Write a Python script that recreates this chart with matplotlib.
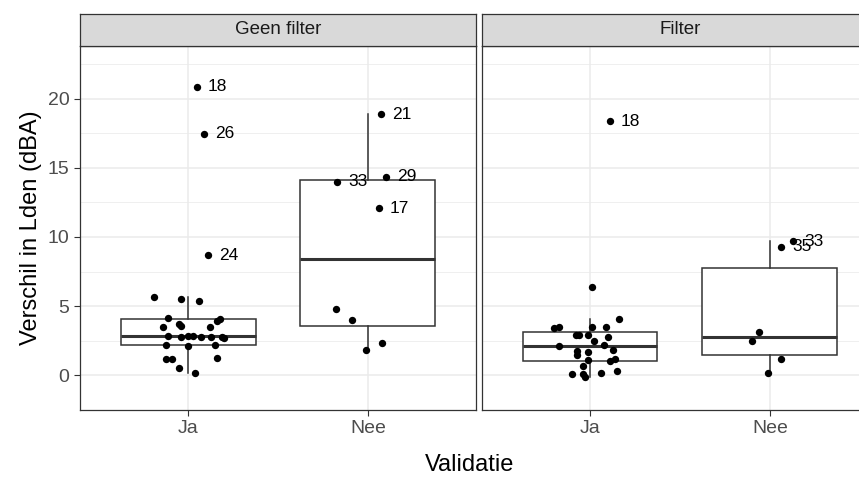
import matplotlib.pyplot as plt
import numpy as np

# Panel 1: "Geen filter"
gf_ja_x = [1.05, 1.09, 1.11, 0.81, 0.96, 1.06, 0.89, 1.18, 0.86, 0.95, 0.96, 1.12, 1.16,
           0.89, 0.96, 1.00, 1.03, 1.07, 1.13, 1.19, 1.20, 0.88, 1.00, 1.15, 0.88, 0.91, 1.16, 0.95, 1.04]
gf_ja_y = [20.86, 17.45, 8.68, 5.66, 5.5, 5.4, 4.16, 4.09, 3.5, 3.7, 3.58, 3.5, 3.93,
           2.88, 2.81, 2.88, 2.88, 2.81, 2.81, 2.81, 2.69, 2.18, 2.11, 2.18, 1.17, 1.17, 1.24, 0.54, 0.19]
gf_ja_lab = ["18", "26", "24"] + [""] * 26
gf_nee_x = [2.07, 1.83, 2.10, 2.06, 1.82, 1.91, 1.99, 2.08]
gf_nee_y = [18.88, 13.99, 14.36, 12.09, 4.77, 3.98, 1.87, 2.34]
gf_nee_lab = ["21", "33", "29", "17", "", "", "", ""]

# Panel 2: "Filter"
f_ja_x = [1.11, 1.01, 1.16, 0.83, 0.80, 1.01, 1.09, 0.92, 0.94, 0.99, 1.10, 1.02, 0.83, 1.08,
          1.13, 0.93, 0.99, 0.93, 0.99, 1.11, 1.14, 0.96, 0.90, 0.96, 0.97, 1.06, 1.15]
f_ja_y = [18.36, 6.39, 4.09, 3.51, 3.39, 3.51, 3.51, 2.92, 2.92, 2.92, 2.81, 2.46, 2.11, 2.18,
          1.87, 1.75, 1.71, 1.47, 1.10, 1.05, 1.17, 0.70, 0.12, 0.12, -0.12, 0.19, 0.35]
f_ja_lab = ["18"] + [""] * 26
f_nee_x = [2.06, 2.13, 1.94, 1.90, 2.06, 1.99]
f_nee_y = [9.29, 9.71, 3.16, 2.46, 1.17, 0.19]
f_nee_lab = ["35", "33", "", "", "", ""]

panels = [
    ("Geen filter", [(gf_ja_x, gf_ja_y, gf_ja_lab), (gf_nee_x, gf_nee_y, gf_nee_lab)]),
    ("Filter", [(f_ja_x, f_ja_y, f_ja_lab), (f_nee_x, f_nee_y, f_nee_lab)]),
]
categories = ["Ja", "Nee"]

plt.rcParams['font.family'] = ['Liberation Sans', 'DejaVu Sans']
fig = plt.figure(figsize=(8.59, 4.79), dpi=100)
W, H = 859, 479
lefts = [80, 482]
pw = 396
top, bottom = 46, 410

for i, (title, groups) in enumerate(panels):
    ax = fig.add_axes([lefts[i] / W, 1 - bottom / H, pw / W, (bottom - top) / H])
    ax.set_xlim(0.4, 2.6)
    ax.set_ylim(-1.75, 23.8)
    ax.set_yticks([0, 5, 10, 15, 20])
    ax.set_yticks(np.arange(-2.5, 25, 5), minor=True)
    ax.grid(True, which='major', color='#EBEBEB', lw=1.1)
    ax.grid(True, which='minor', axis='y', color='#EBEBEB', lw=0.55)
    ax.tick_params(which='minor', length=0)
    ax.set_axisbelow(True)
    for s in ax.spines.values():
        s.set_color('#333333')
        s.set_linewidth(0.9)
    ax.boxplot([g[1] for g in groups], positions=[1, 2], widths=0.75, showfliers=False,
               patch_artist=True,
               boxprops=dict(facecolor='white', edgecolor='#333333', lw=1.1),
               medianprops=dict(color='#333333', lw=2.2),
               whiskerprops=dict(color='#333333', lw=1.1),
               capprops=dict(visible=False))
    for xs, ys, labs in groups:
        ax.scatter(xs, ys, s=28, color='black', zorder=3, lw=0)
        for x, y, l in zip(xs, ys, labs):
            if l:
                ax.annotate(l, (x, y), xytext=(8, 0), textcoords='offset points',
                            va='center', ha='left', fontsize=12.5)
    ax.set_xticks([1, 2])
    ax.set_xticklabels(categories, fontsize=14, color='#4D4D4D')
    ax.tick_params(axis='both', which='major', length=4, color='#333333')
    if i == 0:
        ax.tick_params(axis='y', labelsize=14, labelcolor='#4D4D4D')
        ax.set_ylabel("Verschil in Lden (dBA)", fontsize=17)
    else:
        ax.tick_params(axis='y', left=False, labelleft=False)
    # strip
    sax = fig.add_axes([lefts[i] / W, 1 - top / H, pw / W, 32 / H])
    sax.set_facecolor('#D9D9D9')
    sax.set_xticks([])
    sax.set_yticks([])
    for s in sax.spines.values():
        s.set_color('#333333')
        s.set_linewidth(0.9)
    sax.text(0.5, 0.5, title, ha='center', va='center', fontsize=13.5, color='#1A1A1A',
             transform=sax.transAxes)

fig.text((80 + 859) / 2 / W, 1 - 465 / H, "Validatie", ha='center', va='center', fontsize=17)
fig.savefig("out.png", dpi=100)
